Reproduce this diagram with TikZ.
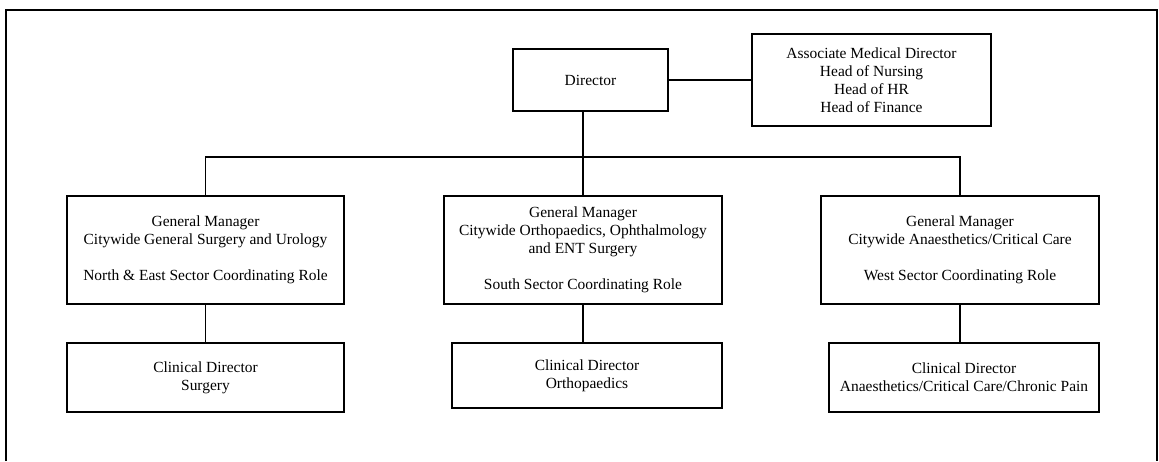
\documentclass[tikz,border=0pt]{standalone}
\usepackage{fontspec}
\setmainfont{Liberation Serif}
\def\px{0.75pt}
\begin{document}
\begin{tikzpicture}[x=\px, y=-\px,
  orgbox/.style={draw, line width=0.8pt, rectangle, inner sep=0pt, align=center,
    font=\fontsize{11.6}{13.5}\selectfont},
  link/.style={line width=0.8pt}]
% Set the page size (pixels of the reference)
\useasboundingbox (0, 0) rectangle (1159, 461);

% Outer frame, open at the bottom
\draw[line width=1.9pt] (6, 461) -- (6, 10) -- (1157, 10) -- (1157, 461);

% Top level
\node[orgbox, minimum width=155*\px, minimum height=62*\px] (director) at (590.5, 80) {Director};
\node[orgbox, minimum width=239*\px, minimum height=92*\px] (heads) at (871.5, 80)
  {Associate Medical Director\\Head of Nursing\\Head of HR\\Head of Finance};

% General managers
\node[orgbox, minimum width=277*\px, minimum height=108*\px] (gmleft) at (205.5, 250)
  {General Manager\\Citywide General Surgery and Urology\\[\baselineskip]North \& East Sector Coordinating Role};
\node[orgbox, minimum width=278*\px, minimum height=108*\px] (gmmid) at (583, 250)
  {General Manager\\Citywide Orthopaedics, Ophthalmology\\and ENT Surgery\\[\baselineskip]South Sector Coordinating Role};
\node[orgbox, minimum width=278*\px, minimum height=108*\px] (gmright) at (960, 250)
  {General Manager\\Citywide Anaesthetics/Critical Care\\[\baselineskip]West Sector Coordinating Role};

% Clinical directors
\node[orgbox, minimum width=277*\px, minimum height=69*\px] (cdleft) at (205.5, 377.5)
  {Clinical Director\\Surgery};
\node[orgbox, minimum width=270*\px, minimum height=65*\px] (cdmid) at (587, 375.5)
  {Clinical Director\\Orthopaedics};
\node[orgbox, minimum width=270*\px, minimum height=69*\px] (cdright) at (964, 377.5)
  {Clinical Director\\Anaesthetics/Critical Care/Chronic Pain};

% Connectors
\coordinate (bus) at (583, 157);
\draw[link] (director.east) -- (heads.west);
\draw[link] (director.south -| gmmid.north) -- (gmmid.north);
\draw[link] (gmleft.north) |- (bus) -| (gmright.north);
\draw[link] (gmleft.south) -- (cdleft.north);
\draw[link] (gmmid.south) -- (gmmid.south |- cdmid.north);
\draw[link] (gmright.south) -- (gmright.south |- cdright.north);
\end{tikzpicture}
\end{document}
